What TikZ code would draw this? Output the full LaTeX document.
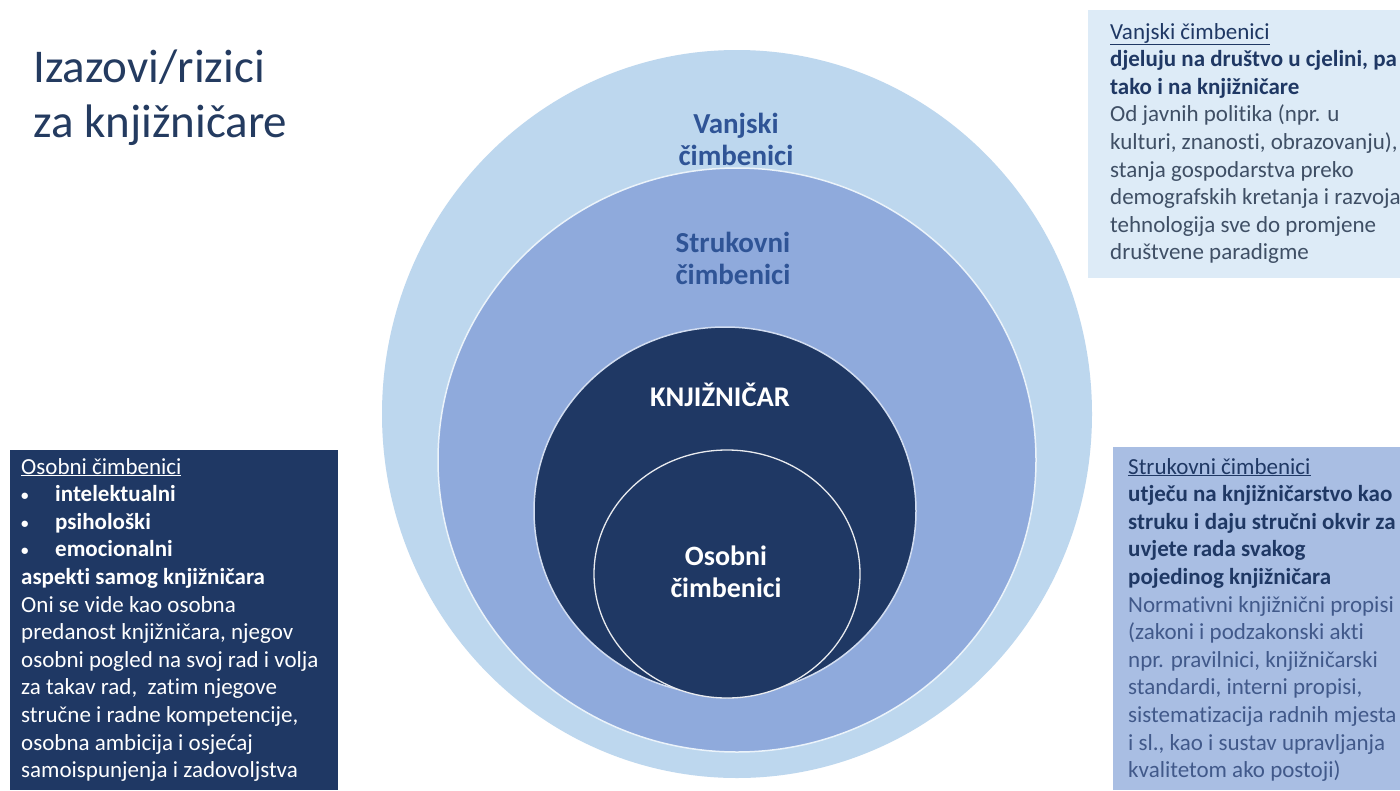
\documentclass[tikz,border=0pt]{standalone}
\usepackage{fontspec}
\setmainfont{Carlito}[Ligatures=NoCommon]
\usetikzlibrary{shapes.geometric}
\definecolor{outerc}{HTML}{BDD7EE}
\definecolor{midc}{HTML}{8FAADC}
\definecolor{darkc}{HTML}{1F3864}
\definecolor{boxtopc}{HTML}{DDEBF7}
\definecolor{boxrightc}{HTML}{A9BEE3}
\definecolor{labelc}{HTML}{2F5496}
\definecolor{titlec}{HTML}{243B60}
\definecolor{graytxt}{HTML}{3F4F65}
\definecolor{bluetxt}{HTML}{41598A}
\newcommand{\bul}{\makebox[34pt][l]{\raisebox{1pt}{\fontsize{15}{15}\selectfont•}}}
\tikzset{
  ring/.style={ellipse, inner sep=0pt},
  circlabel/.style={align=center, font=\fontsize{29}{32}\selectfont\bfseries},
  boxtext/.style={anchor=north west, align=left, inner sep=0pt, font=\fontsize{23}{27.6}\selectfont},
}
\begin{document}
\begin{tikzpicture}[x=1pt,y=-1pt]
\useasboundingbox (0,0) rectangle (1400,790);
\fill[white] (0,0) rectangle (1400,790);
% title
\node[anchor=base west, align=left, inner sep=0pt, text=titlec,
      font=\fontsize{47}{55}\selectfont] (title) at (33,137) {Izazovi/rizici\\za knjižničare};
% rings
\node[ring, fill=outerc, minimum width=710pt, minimum height=728pt] (outer) at (737,414) {};
\node[ring, fill=midc, draw=white!70!outerc, line width=1.5pt, minimum width=598pt, minimum height=584pt] (mid) at (737,460) {};
\node[ring, fill=darkc, draw=white!60!midc, line width=1.5pt, minimum width=382pt, minimum height=368pt] (dark) at (725,511) {};
\node[ring, fill=darkc, draw=white!90!darkc, line width=1.3pt, minimum width=266pt, minimum height=248pt] (inner) at (727,574) {};
% ring labels
\node[circlabel, text=labelc] (lv) at (736,139) {Vanjski\\čimbenici};
\node[circlabel, text=labelc] (ls) at (733,258) {Strukovni\\čimbenici};
\node[circlabel, text=white, font=\fontsize{28.5}{30}\selectfont\bfseries] (lk) at (720,395) {KNJIŽNIČAR};
\node[circlabel, text=white, font=\fontsize{28}{32}\selectfont\bfseries] (lo) at (726,572) {Osobni\\čimbenici};
% boxes
\fill[boxtopc] (1088,10) rectangle (1400,278);
\fill[boxrightc] (1113,447) rectangle (1400,790);
\fill[darkc] (10,450) rectangle (338,790);
\node[boxtext, text=darkc] (tvanj) at (1110,19.6) {\strut\underline{Vanjski čimbenici}\\
\textbf{djeluju na društvo u cjelini, pa}\\
\textbf{tako i na knjižničare}\\
\textcolor{graytxt}{Od javnih politika (npr. u}\\
\textcolor{graytxt}{kulturi, znanosti, obrazovanju),}\\
\textcolor{graytxt}{stanja gospodarstva preko}\\
\textcolor{graytxt}{demografskih kretanja i razvoja}\\
\textcolor{graytxt}{tehnologija sve do promjene}\\
\textcolor{graytxt}{društvene paradigme}};
\node[boxtext, text=darkc] (tstruk) at (1128,454.6) {\strut\underline{Strukovni čimbenici}\\
\textbf{utječu na knjižničarstvo kao}\\
\textbf{struku i daju stručni okvir za}\\
\textbf{uvjete rada svakog}\\
\textbf{pojedinog knjižničara}\\
\textcolor{bluetxt}{Normativni knjižnični propisi}\\
\textcolor{bluetxt}{(zakoni i podzakonski akti}\\
\textcolor{bluetxt}{npr. pravilnici, knjižničarski}\\
\textcolor{bluetxt}{standardi, interni propisi,}\\
\textcolor{bluetxt}{sistematizacija radnih mjesta}\\
\textcolor{bluetxt}{i sl., kao i sustav upravljanja}\\
\textcolor{bluetxt}{kvalitetom ako postoji)}};
\node[boxtext, text=white] (tosob) at (21,454.6) {\strut\underline{Osobni čimbenici}\\
\textbf{\bul intelektualni}\\
\textbf{\bul psihološki}\\
\textbf{\bul emocionalni}\\
\textbf{aspekti samog knjižničara}\\
Oni se vide kao osobna\\
predanost knjižničara, njegov\\
osobni pogled na svoj rad i volja\\
za takav rad,\ \ zatim njegove\\
stručne i radne kompetencije,\\
osobna ambicija i osjećaj\\
samoispunjenja i zadovoljstva};
\end{tikzpicture}
\end{document}
